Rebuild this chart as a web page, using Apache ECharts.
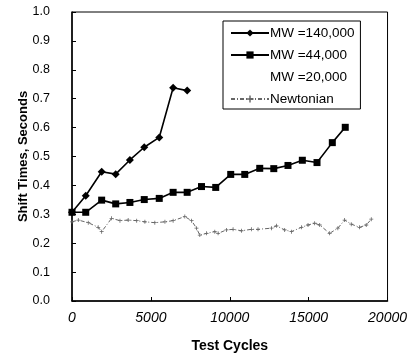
<!DOCTYPE html>
<html>
<head>
<meta charset="utf-8">
<script src="https://cdn.jsdelivr.net/npm/echarts@6/dist/echarts.min.js"></script>
<style>html,body{margin:0;padding:0;background:#fff}#c{width:410px;height:358px}</style>
</head>
<body>
<div id="c"></div>
<script>
// ---- data ----
const seriesNames = ['MW =140,000', 'MW =44,000', 'MW =20,000', 'Newtonian'];
const xTicks = [0, 5000, 10000, 15000, 20000];
const yTicks = [0.0, 0.1, 0.2, 0.3, 0.4, 0.5, 0.6, 0.7, 0.8, 0.9, 1.0];

const cyclesA = [0, 870, 1880, 2770, 3670, 4580, 5530, 6410, 7300];
const mw140 = [0.307, 0.364, 0.447, 0.439, 0.488, 0.532, 0.566, 0.738, 0.728];

const cyclesB = [0, 870, 1880, 2770, 3670, 4580, 5530, 6410, 7300, 8210, 9110, 10060, 10950, 11900, 12790, 13690, 14600, 15530, 16500, 17320];
const mw44 = [0.307, 0.307, 0.349, 0.336, 0.341, 0.351, 0.355, 0.376, 0.376, 0.396, 0.393, 0.438, 0.438, 0.459, 0.458, 0.469, 0.487, 0.479, 0.548, 0.601];

const cyclesN = [0, 400, 1030, 1660, 1880, 2510, 3040, 3560, 4100, 4620, 5250, 5890, 6410, 7150, 7580, 7890, 8100, 8530, 9050, 9260, 9790, 10210, 10740, 11370, 11790, 12640, 12960, 13480, 13910, 14540, 14960, 15380, 15700, 16330, 16850, 17280, 17700, 18230, 18650, 18970];
const newtonian = [0.274, 0.280, 0.271, 0.255, 0.240, 0.286, 0.278, 0.280, 0.278, 0.274, 0.271, 0.274, 0.278, 0.292, 0.278, 0.252, 0.228, 0.234, 0.240, 0.234, 0.246, 0.248, 0.243, 0.248, 0.248, 0.252, 0.260, 0.246, 0.240, 0.255, 0.263, 0.269, 0.263, 0.234, 0.252, 0.280, 0.266, 0.255, 0.263, 0.283];

const pair = (xs, ys) => xs.map((x, i) => [x, ys[i]]);
const FONT = '"Liberation Sans", Arial, sans-serif';
const plusPath = 'path://M4,0h2v4h4v2h-4v4h-2v-4h-4v-2h4z';

const chart = echarts.init(document.getElementById('c'), null, {renderer: 'canvas'});
chart.setOption({
  animation: false,
  backgroundColor: '#fff',
  textStyle: {fontFamily: FONT, color: '#000'},
  grid: {left: 72, right: 22, top: 12, bottom: 57, show: true, borderColor: '#000', borderWidth: 1, backgroundColor: 'transparent'},
  legend: {
    orient: 'vertical',
    left: 223, top: 21,
    padding: [5, 6, 3, 7],
    itemGap: 8,
    itemWidth: 38, itemHeight: 9,
    borderColor: '#000', borderWidth: 1,
    backgroundColor: '#fff',
    textStyle: {fontFamily: FONT, fontSize: 13.5, color: '#000', padding: [0, 0, 0, -4]},
    data: [
      {name: seriesNames[0]},
      {name: seriesNames[1]},
      {name: seriesNames[2], itemStyle: {opacity: 0}, lineStyle: {opacity: 0}},
      {name: seriesNames[3]}
    ]
  },
  xAxis: {
    type: 'value', min: 0, max: 20000, interval: 5000,
    name: 'Test Cycles', nameLocation: 'middle', nameGap: 38, nameMoveOverlap: false,
    nameTextStyle: {fontFamily: FONT, fontSize: 14, fontWeight: 'bold', color: '#000'},
    axisLine: {show: true, lineStyle: {color: '#000', width: 1.5}},
    axisTick: {show: true, inside: true, length: 4, lineStyle: {color: '#000'}},
    splitLine: {show: false},
    axisLabel: {fontFamily: FONT, fontSize: 14, fontStyle: 'italic', color: '#000', margin: 10,
      customValues: xTicks, formatter: v => String(v)}
  },
  yAxis: {
    type: 'value', min: 0, max: 1, interval: 0.1,
    name: 'Shift Times, Seconds', nameLocation: 'middle', nameGap: 42, nameRotate: 90, nameMoveOverlap: false,
    nameTextStyle: {fontFamily: FONT, fontSize: 13, fontWeight: 'bold', color: '#000'},
    axisLine: {show: true, lineStyle: {color: '#000', width: 1.5}},
    axisTick: {show: true, inside: true, length: 4, lineStyle: {color: '#000'}},
    splitLine: {show: false},
    axisLabel: {fontFamily: FONT, fontSize: 12.5, color: '#000', margin: 22,
      customValues: yTicks, formatter: v => v.toFixed(1)}
  },
  series: [
    {name: seriesNames[0], type: 'line', data: pair(cyclesA, mw140),
      symbol: 'diamond', symbolSize: 8, showSymbol: true,
      lineStyle: {color: '#000', width: 1.6}, itemStyle: {color: '#000'}},
    {name: seriesNames[1], type: 'line', data: pair(cyclesB, mw44),
      symbol: 'rect', symbolSize: 7, showSymbol: true,
      lineStyle: {color: '#000', width: 1.6}, itemStyle: {color: '#000'}},
    {name: seriesNames[2], type: 'line', data: [],
      symbol: 'triangle', symbolSize: 7,
      lineStyle: {color: '#000', width: 0, opacity: 0}, itemStyle: {color: '#000', opacity: 0}},
    {name: seriesNames[3], type: 'line', data: pair(cyclesN, newtonian),
      symbol: plusPath, symbolSize: 4, showSymbol: true,
      lineStyle: {color: '#666', width: 1, type: [4, 2, 1, 2]}, itemStyle: {color: '#666'}}
  ]
});
</script>
</body>
</html>
